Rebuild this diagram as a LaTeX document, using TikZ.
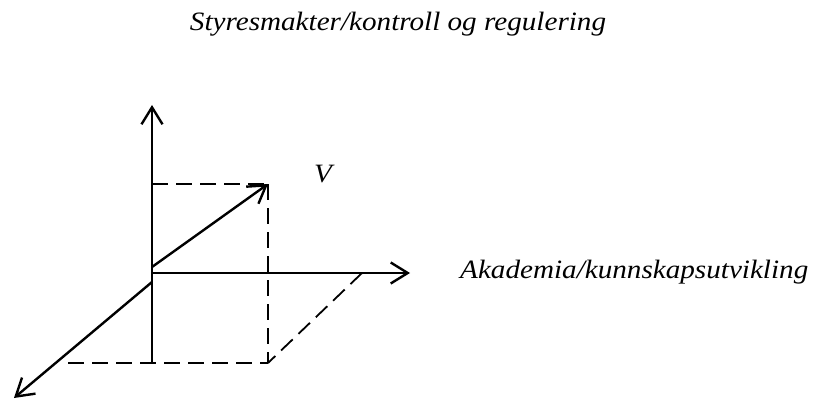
\documentclass[tikz,border=0pt]{standalone}
\usepackage{fontspec}
\setmainfont{Liberation Serif}
\newfontfamily\lblfont[FakeStretch=1.1]{Liberation Serif}
\usetikzlibrary{arrows.meta}
\begin{document}
\begin{tikzpicture}[x=1pt,y=-1pt,
  axis/.style={line width=2.4pt,-{Straight Barb[length=17pt,width=21pt,line width=2.4pt]}},
  proj/.style={line width=1.8pt,dash pattern=on 16pt off 8pt},
  lbl/.style={font=\lblfont\fontsize{26.5}{30}\selectfont\itshape,inner sep=0pt}]
\useasboundingbox (0,0) rectangle (813,401);
\coordinate (O) at (152,273);
\coordinate (vbot) at (152,363);
\coordinate (vtop) at (152,105);
\coordinate (htip) at (410,273);
\coordinate (dstart) at (152,282);
\coordinate (dtip) at (14,398);
\coordinate (vstart) at (152,267);
\coordinate (V) at (268,184);
\coordinate (Vy) at (152,184);
\coordinate (Vb) at (268,363);
\coordinate (bl) at (68,363);
\coordinate (pr) at (362,273);
\draw[axis] (vbot) -- (vtop);
\draw[axis] (O) -- (htip);
\draw[axis] (dstart) -- (dtip);
\draw[axis] (vstart) -- (V);
\draw[proj] (Vy) -- (V);
\draw[proj] (V) -- (Vb);
\draw[proj] (bl) -- (Vb);
\draw[proj] (pr) -- (Vb);
\node[lbl,anchor=base] (t1) at (398,31) {Styresmakter/kontroll og regulering};
\node[lbl,anchor=base west] (t2) at (460,278) {Akademia/kunnskapsutvikling};
\node[lbl,anchor=base] (t3) at (323,182) {V};
\end{tikzpicture}
\end{document}
